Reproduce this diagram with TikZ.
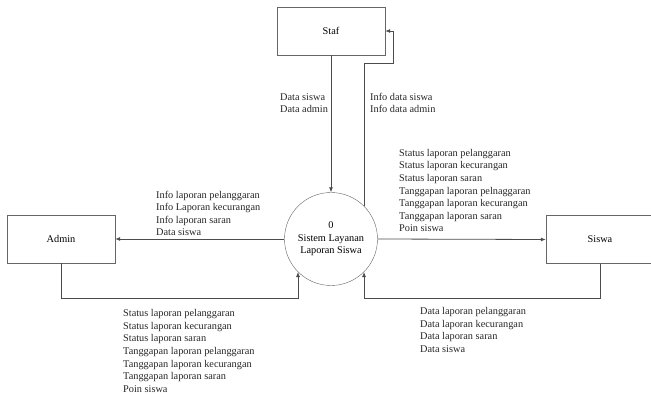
\documentclass[tikz,border=0pt]{standalone}
\usepackage{fontspec}
\setmainfont{Liberation Serif}
\usetikzlibrary{arrows.meta}
\tikzset{
  ent/.style={draw=black!60,minimum width=108pt,minimum height=48pt,inner sep=0pt},
  process/.style={circle,draw=black!60,minimum size=93pt,inner sep=0pt,align=center},
  flow/.style={draw=black!70,line width=0.8pt,-{Latex[length=5pt,width=4pt]}},
  lbl/.style={inner sep=0pt,align=left,anchor=west,text=black!85}
}
\begin{document}
\begin{tikzpicture}[x=1pt,y=-1pt,font=\fontsize{10.3}{12.6}\selectfont]
\useasboundingbox (0,0) rectangle (651,398);
\node[ent] (staf) at (331,31) {Staf};
\node[ent] (admin) at (61,239) {Admin};
\node[ent] (siswa) at (600,239.5) {Siswa};
\node[process] (sys) at (331,239) {0\\Sistem Layanan\\Laporan Siswa};
\coordinate (stafturn) at (393,63);
\coordinate (bottom) at (0,298);
\draw[flow] (staf.south) -- (sys.north);
\draw[flow] (sys.45) |- (stafturn) |- (staf.east);
\draw[flow] (sys.west) -- (admin.east);
\draw[flow] (admin.south) |- (sys.225 |- bottom) -- (sys.225);
\draw[flow] (sys.east) -- (siswa.west);
\draw[flow] (siswa.south) |- (sys.315 |- bottom) -- (sys.315);
\node[lbl] at (280,103) {Data siswa\\Data admin};
\node[lbl] at (370,103) {Info data siswa\\Info data admin};
\node[lbl] at (156,213.5) {Info laporan pelanggaran\\Info Laporan kecurangan\\Info laporan saran\\Data siswa};
\node[lbl] at (399,190.5) {Status laporan pelanggaran\\Status laporan kecurangan\\Status laporan saran\\Tanggapan laporan pelnaggaran\\Tanggapan laporan kecurangan\\Tanggapan laporan saran\\Poin siswa};
\node[lbl] at (123,351) {Status laporan pelanggaran\\Status laporan kecurangan\\Status laporan saran\\Tanggapan laporan pelanggaran\\Tanggapan laporan kecurangan\\Tanggapan laporan saran\\Poin siswa};
\node[lbl] at (420,330) {Data laporan pelanggaran\\Data laporan kecurangan\\Data laporan saran\\Data siswa};
\end{tikzpicture}
\end{document}
